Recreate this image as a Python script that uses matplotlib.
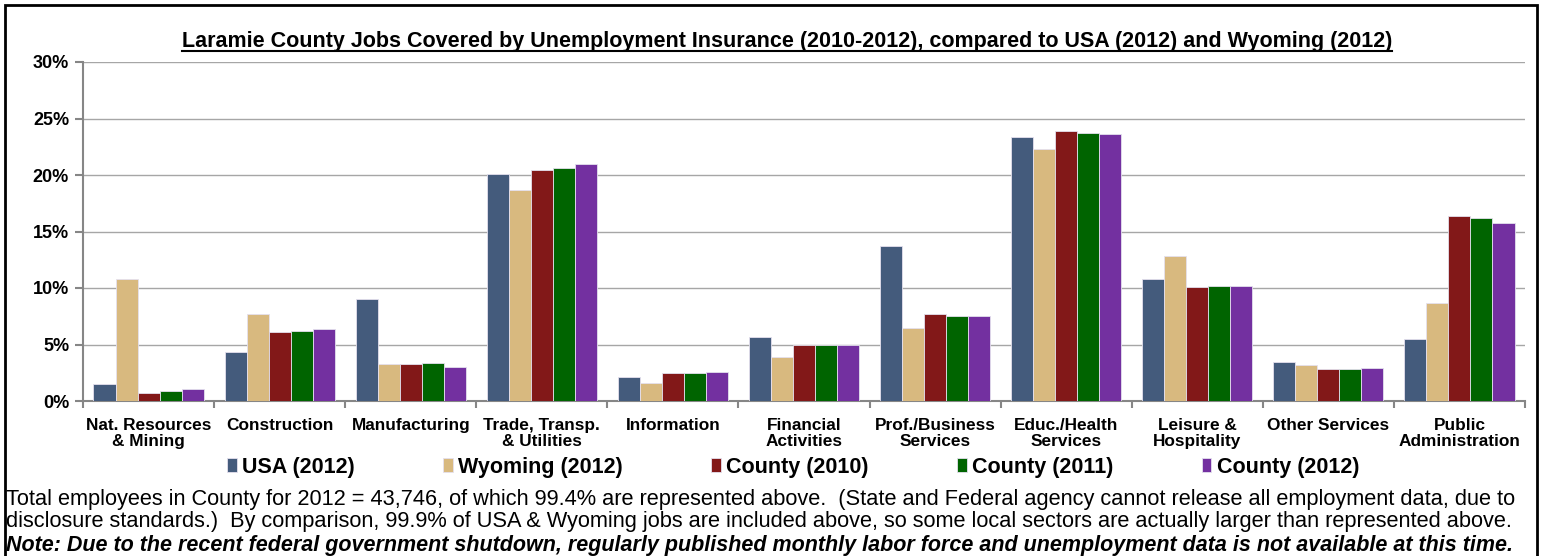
import numpy as np
import matplotlib
matplotlib.use('Agg')
import matplotlib.pyplot as plt
from matplotlib.patches import Rectangle
from matplotlib.lines import Line2D
from matplotlib.ticker import FuncFormatter, FixedLocator

plt.rcParams['font.family'] = ['Liberation Sans', 'DejaVu Sans']

# categories and series (percent of jobs)
categories = ['Nat. Resources\n& Mining', 'Construction', 'Manufacturing',
              'Trade, Transp.\n& Utilities', 'Information', 'Financial\nActivities',
              'Prof./Business\nServices', 'Educ./Health\nServices', 'Leisure &\nHospitality',
              'Other Services', 'Public\nAdministration']
series_names = ['USA (2012)', 'Wyoming (2012)', 'County (2010)', 'County (2011)', 'County (2012)']
usa_2012 = [1.5, 4.3, 9.0, 20.1, 2.1, 5.7, 13.7, 23.4, 10.8, 3.45, 5.45]
wyoming_2012 = [10.8, 7.7, 3.3, 18.7, 1.6, 3.9, 6.5, 22.3, 12.8, 3.15, 8.7]
county_2010 = [0.7, 6.1, 3.3, 20.4, 2.5, 5.0, 7.7, 23.9, 10.1, 2.8, 16.4]
county_2011 = [0.9, 6.2, 3.4, 20.6, 2.5, 4.95, 7.5, 23.7, 10.2, 2.85, 16.2]
county_2012 = [1.1, 6.4, 3.0, 21.0, 2.6, 4.95, 7.5, 23.6, 10.2, 2.95, 15.75]
colours = ['#445B7C', '#D8B97F', '#821818', '#006400', '#7330A0']

fig = plt.figure(figsize=(15.43, 5.56), dpi=100)
ax = fig.add_axes([83/1543, 1 - 401/556, (1525-83)/1543, (401-62)/556])

x = np.arange(len(categories))
w = 0.168
for i, (vals, c, n) in enumerate(zip([usa_2012, wyoming_2012, county_2010, county_2011, county_2012],
                                     colours, series_names)):
    ax.bar(x + (i - 2) * w, vals, width=w, color=c, label=n,
           edgecolor='#E4E0EE', linewidth=0.6, zorder=3)

ax.set_xlim(-0.5, len(categories) - 0.5)
ax.set_ylim(0, 30)
ax.set_yticks(np.arange(0, 31, 5))
ax.yaxis.set_major_formatter(FuncFormatter(lambda v, p: '%d%%' % v))
ax.grid(axis='y', color='#A6A6A6', linewidth=1, zorder=0)
ax.set_xticks(x)
ax.set_xticklabels(categories, fontsize=12.4, fontweight='bold', linespacing=1.12)
ax.tick_params(axis='x', length=0, pad=12)
ax.xaxis.set_minor_locator(FixedLocator(np.arange(-0.5, len(categories), 1)))
ax.tick_params(axis='x', which='minor', length=5, color='#868686', width=1.5)
ax.tick_params(axis='y', labelsize=13, length=6, color='#868686', width=1.5, pad=4)
for lab in ax.get_yticklabels():
    lab.set_fontweight('bold')
for s in ['top', 'right']:
    ax.spines[s].set_visible(False)
for s in ['left', 'bottom']:
    ax.spines[s].set_color('#868686')
    ax.spines[s].set_linewidth(1.5)

# title with underline
t = fig.text(787/1543, 1 - 42/556, 'Laramie County Jobs Covered by Unemployment Insurance (2010-2012), '
             'compared to USA (2012) and Wyoming (2012)',
             ha='center', va='center', fontsize=15.5, fontweight='bold')
fig.canvas.draw()
bb = t.get_window_extent().transformed(fig.transFigure.inverted())
fig.add_artist(Line2D([bb.x0, bb.x1], [bb.y0 + 0.003, bb.y0 + 0.003], color='black',
                      linewidth=1.5, transform=fig.transFigure))

# legend
fig.legend(loc='center', bbox_to_anchor=(0.514, 1 - 467/556), ncol=5, frameon=False,
           prop={'size': 15.5, 'weight': 'bold'}, handlelength=0.45, handleheight=0.6,
           handletextpad=0.25, columnspacing=4.1)

# footer
fig.text(6/1543, 1 - 499/556, 'Total employees in County for 2012 = 43,746, of which 99.4% are represented above.  '
         '(State and Federal agency cannot release all employment data, due to',
         ha='left', va='center', fontsize=15.7)
fig.text(6/1543, 1 - 521/556, 'disclosure standards.)  By comparison, 99.9% of USA & Wyoming jobs are included above, '
         'so some local sectors are actually larger than represented above.',
         ha='left', va='center', fontsize=15.7)
fig.text(6/1543, 1 - 545/556, 'Note: Due to the recent federal government shutdown, regularly published monthly '
         'labor force and unemployment data is not available at this time.',
         ha='left', va='center', fontsize=15.5, fontweight='bold', fontstyle='italic')

# outer frame
fig.add_artist(Rectangle((5/1543, -0.01), 1532/1543, 1 - 5/556 + 0.01, fill=False,
                         edgecolor='black', linewidth=2, transform=fig.transFigure))

fig.savefig('out.png', dpi=100)
